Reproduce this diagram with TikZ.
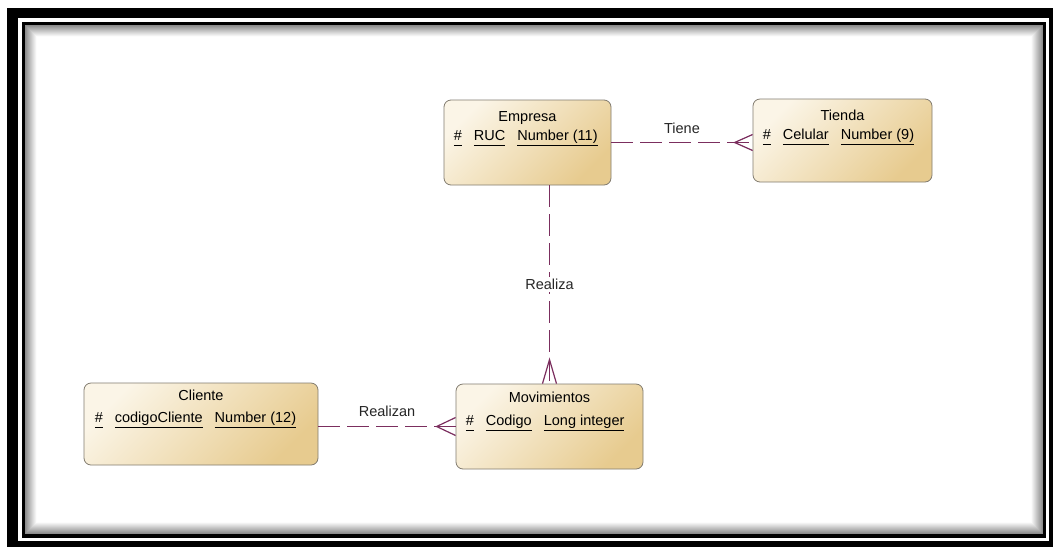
\documentclass[tikz,border=0pt]{standalone}
\usepackage{fontspec}
\setmainfont{Liberation Sans}
\usetikzlibrary{positioning}
\definecolor{crema}{RGB}{251,245,231}
\definecolor{ocre}{RGB}{231,203,143}
\definecolor{borde}{RGB}{130,124,112}
\definecolor{ciruela}{RGB}{123,46,94}
\tikzstyle{entidad}=[draw=borde, rounded corners=7pt, top color=crema, bottom color=ocre, shading angle=45, line width=0.8pt]
\tikzstyle{rel}=[draw=ciruela, line width=1.3pt, dash pattern=on 22pt off 7pt]
\tikzstyle{pata}=[draw=ciruela, line width=1.2pt]
\tikzstyle{titulo}=[anchor=base, inner sep=0pt]
\tikzstyle{atrib}=[anchor=base west, inner sep=0pt]
\newcommand{\campo}[1]{\underline{\vphantom{gy}#1}}

\begin{document}
\begin{tikzpicture}[x=1pt,y=-1pt,font=\fontsize{14.5}{17}\selectfont]
    \useasboundingbox (0,0) rectangle (1055,547);
    % marco
    \fill[white] (0,0) rectangle (1055,547);
    \fill[black] (7,8) rectangle (1053,547);
    \fill[white] (18,18) rectangle (1049,541);
    \fill[black] (22,22) rectangle (1046,538);
    \fill[white] (25,25) rectangle (1043,534);
    \foreach \i in {0,...,11} {
        \pgfmathsetmacro\g{45-4*\i}
        \draw[black!\g, line width=1pt] (25.5+\i,25.5+\i) rectangle (1042.5-\i,533.5-\i);
    }

    % entidades
    \node[entidad, minimum width=167pt, minimum height=85pt] (empresa) at (527.5,142.5) {};
    \node[titulo] at ([yshift=-22pt]empresa.north) {Empresa};
    \node[atrib] at ([xshift=10pt,yshift=-41pt]empresa.north west) {\campo{\#}\hspace{12pt}\campo{RUC}\hspace{12pt}\campo{Number (11)}};

    \node[entidad, minimum width=179pt, minimum height=83pt] (tienda) at (842.5,140.5) {};
    \node[titulo] at ([yshift=-22pt]tienda.north) {Tienda};
    \node[atrib] at ([xshift=10pt,yshift=-41pt]tienda.north west) {\campo{\#}\hspace{12pt}\campo{Celular}\hspace{12pt}\campo{Number (9)}};

    \node[entidad, minimum width=234pt, minimum height=82pt] (cliente) at (201,424) {};
    \node[titulo] at ([yshift=-18pt]cliente.north) {Cliente};
    \node[atrib] at ([xshift=11pt,yshift=-40pt]cliente.north west) {\campo{\#}\hspace{12pt}\campo{codigoCliente}\hspace{12pt}\campo{Number (12)}};

    \node[entidad, minimum width=187pt, minimum height=85pt] (movim) at (549.5,426.5) {};
    \node[titulo] at ([yshift=-19pt]movim.north) {Movimientos};
    \node[atrib] at ([xshift=10pt,yshift=-42pt]movim.north west) {\campo{\#}\hspace{12pt}\campo{Codigo}\hspace{12pt}\campo{Long integer}};

    % relaciones
    \coordinate (f1) at (empresa.east -| tienda.west);
    \coordinate (f2) at (movim.north);
    \coordinate (f3) at (movim.west);

    \draw[rel] (empresa.east) -- (f1) node[midway, above=5pt, text=black!85] {Tiene};
    \draw[rel] (empresa.south -| f2) -- (f2) node[midway, fill=white, inner sep=2pt, text=black!85] {Realiza};
    \draw[rel] (f3 -| cliente.east) -- (f3) node[midway, above=6pt, text=black!85] {Realizan};

    \draw[pata] ([yshift=8pt]f1) -- ([xshift=-18pt]f1) -- ([yshift=-8pt]f1);
    \draw[pata] ([xshift=-7pt]f2) -- ([yshift=24pt]f2) -- ([xshift=7pt]f2);
    \draw[pata] ([yshift=9pt]f3) -- ([xshift=-19pt]f3) -- ([yshift=-9pt]f3);
\end{tikzpicture}
\end{document}
